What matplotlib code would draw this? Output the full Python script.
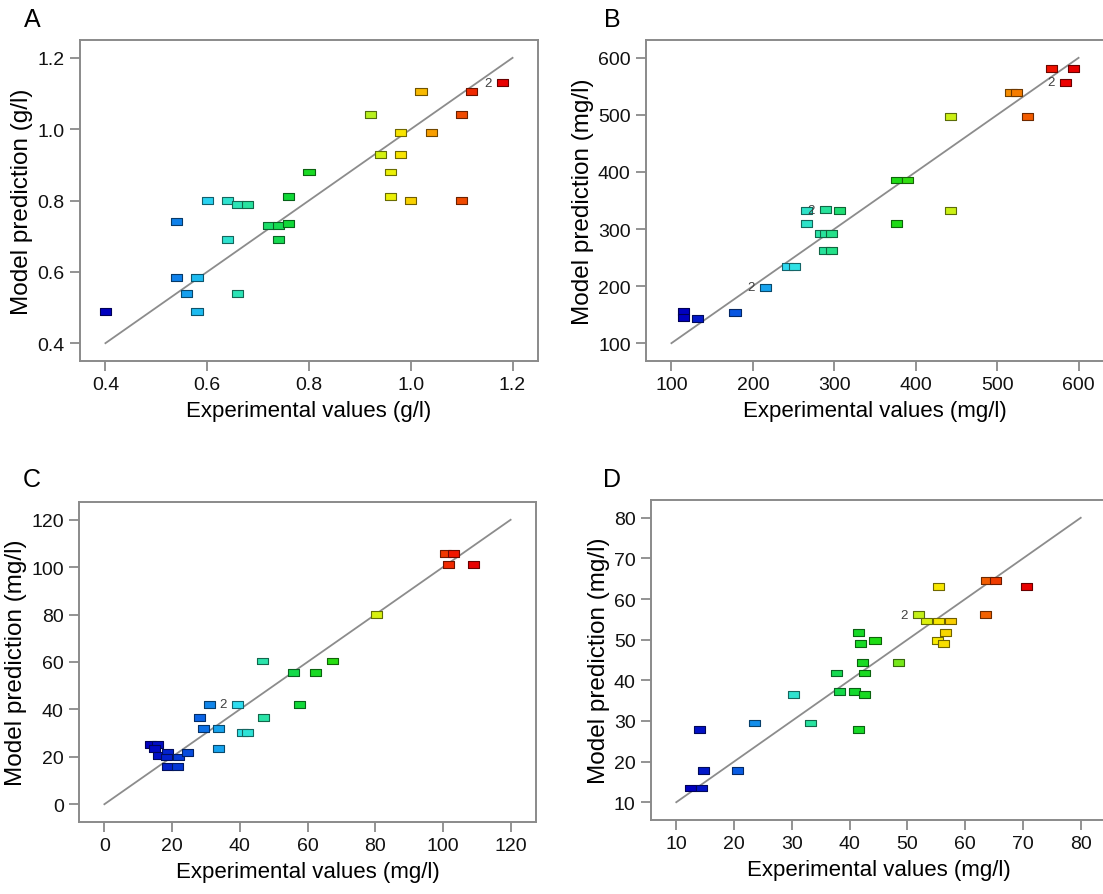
import matplotlib
matplotlib.use("Agg")
import matplotlib.pyplot as plt
import numpy as np
from matplotlib.colors import LinearSegmentedColormap

plt.rcParams['font.family'] = ['Liberation Sans', 'DejaVu Sans']

# A: biomass (g/l)
a_exp = [0.40, 0.54, 0.54, 0.58, 0.56, 0.58, 0.60, 0.64, 0.64, 0.66, 0.68, 0.66,
         0.72, 0.74, 0.76, 0.74, 0.76, 0.80, 0.92, 0.94, 0.98, 0.98, 0.96, 0.96,
         1.00, 1.02, 1.04, 1.10, 1.10, 1.12, 1.18]
a_pred = [0.49, 0.74, 0.585, 0.585, 0.54, 0.49, 0.80, 0.80, 0.69, 0.79, 0.79, 0.54,
          0.73, 0.73, 0.735, 0.69, 0.81, 0.88, 1.04, 0.93, 0.99, 0.93, 0.88, 0.81,
          0.80, 1.105, 0.99, 1.04, 0.80, 1.105, 1.13]
a_twice = [30]

# B (mg/l)
b_exp = [115, 115, 132, 178, 216, 242, 251, 266, 266, 283, 289, 297, 288, 297,
         289, 306, 376, 390, 376, 443, 443, 517, 524, 537, 567, 584, 594]
b_pred = [155, 145, 143, 153, 198, 234, 234, 333, 310, 292, 292, 292, 263, 263,
          334, 333, 386, 386, 310, 497, 333, 540, 540, 497, 581, 557, 581]
b_twice = [4, 14, 25]

# C (mg/l)
c_exp = [13.6, 15.6, 14.8, 16.1, 18.75, 18.4, 21.8, 24.5, 18.6, 21.7, 28.1, 29.2,
         31.1, 33.7, 33.7, 39.3, 40.8, 42.2, 46.7, 47.0, 55.8, 57.7, 62.3, 67.4,
         80.3, 100.7, 103.1, 101.6, 109.0]
c_pred = [25.2, 25.2, 23.4, 20.7, 21.7, 19.9, 19.9, 21.7, 16.1, 16.1, 36.5, 32.0,
          42.1, 32.0, 23.5, 42.1, 30.1, 30.1, 60.4, 36.5, 55.5, 42.1, 55.5, 60.4,
          79.9, 105.9, 105.9, 101.3, 101.3]
c_twice = [15]

# D (mg/l)
d_exp = [12.5, 14.3, 14.0, 14.7, 20.6, 23.5, 30.3, 33.2, 37.8, 38.3, 40.8, 41.6,
         41.6, 41.9, 42.3, 42.6, 42.6, 44.4, 48.4, 51.9, 53.3, 55.4, 55.4, 55.2,
         56.2, 56.6, 57.4, 63.5, 63.7, 65.3, 70.6]
d_pred = [13.5, 13.5, 27.9, 17.8, 17.8, 29.5, 36.5, 29.5, 41.8, 37.2, 37.2, 51.8,
          27.9, 49.1, 44.3, 41.8, 36.5, 49.7, 44.3, 56.1, 54.6, 54.6, 63.1, 49.7,
          49.1, 51.8, 54.6, 56.1, 64.6, 64.6, 63.1]
d_twice = [19]

a_ticks = [0.4, 0.6, 0.8, 1.0, 1.2]
b_ticks = [100, 200, 300, 400, 500, 600]
c_ticks = [0, 20, 40, 60, 80, 100, 120]
d_ticks = [10, 20, 30, 40, 50, 60, 70, 80]

cmap = LinearSegmentedColormap.from_list('de', [
    (0.00, '#0000c0'), (0.15, '#0a64e6'), (0.22, '#18b0f0'), (0.27, '#30e0f0'),
    (0.34, '#2ce4b0'), (0.46, '#10d838'), (0.56, '#20dc10'), (0.66, '#b0f020'),
    (0.73, '#f8f000'), (0.78, '#f8c800'), (0.83, '#f89800'), (0.90, '#f04800'),
    (0.96, '#f00000'), (1.00, '#e80000')])

# flat rectangle marker
rect = [(-1, -0.62), (1, -0.62), (1, 0.62), (-1, 0.62), (-1, -0.62)]

W, H = 1103, 895
fig = plt.figure(figsize=(W / 100, H / 100), dpi=100)

GRAY = '#8a8a8a'


def add_panel(box, letter, letter_xy, x, y, twice, ticks, fmt, unit):
    l, t, r, b = box
    ax = fig.add_axes([l / W, 1 - b / H, (r - l) / W, (b - t) / H])
    lo, hi = ticks[0], ticks[-1]
    pad = (hi - lo) * 0.0625
    ax.set_xlim(lo - pad, hi + pad)
    ax.set_ylim(lo - pad, hi + pad)
    ax.plot([lo, hi], [lo, hi], color='#8c8c8c', lw=1.3, zorder=1)

    x = np.array(x)
    y = np.array(y)
    norm = plt.Normalize(x.min(), x.max())
    face = cmap(norm(x))
    edge = face.copy()
    edge[:, :3] *= 0.45
    ax.scatter(x, y, marker=rect, s=64, c=face, edgecolors=edge,
               linewidths=0.8, zorder=3)
    for i in twice:
        ax.annotate('2', (x[i], y[i]), xytext=(-8, 0), textcoords='offset points',
                    ha='right', va='center', fontsize=9.5, color='#404040', zorder=4)

    ax.set_xticks(ticks)
    ax.set_yticks(ticks)
    ax.set_xticklabels([fmt.format(v) for v in ticks])
    ax.set_yticklabels([fmt.format(v) for v in ticks])
    for s in ax.spines.values():
        s.set_color(GRAY)
        s.set_linewidth(1.4)
    ax.tick_params(direction='out', length=7, width=1.3, color=GRAY,
                   labelsize=14, labelcolor='#111111', pad=4)
    ax.set_xlabel('Experimental values (' + unit + ')', fontsize=16, labelpad=5)
    ax.set_ylabel('Model prediction (' + unit + ')', fontsize=17.5, labelpad=3)
    fig.text(letter_xy[0] / W, 1 - letter_xy[1] / H, letter, fontsize=18,
             ha='center', va='center')
    return ax


add_panel((80, 41, 538, 362), 'A', (32, 20), a_exp, a_pred, a_twice, a_ticks, '{:.1f}', 'g/l')
add_panel((646, 41, 1104, 362), 'B', (612, 20), b_exp, b_pred, b_twice, b_ticks, '{:d}', 'mg/l')
add_panel((79, 503, 536, 823), 'C', (32, 480), c_exp, c_pred, c_twice, c_ticks, '{:d}', 'mg/l')
add_panel((651, 501, 1106, 821), 'D', (612, 480), d_exp, d_pred, d_twice, d_ticks, '{:d}', 'mg/l')

fig.savefig('out.png', dpi=100, facecolor='white')
